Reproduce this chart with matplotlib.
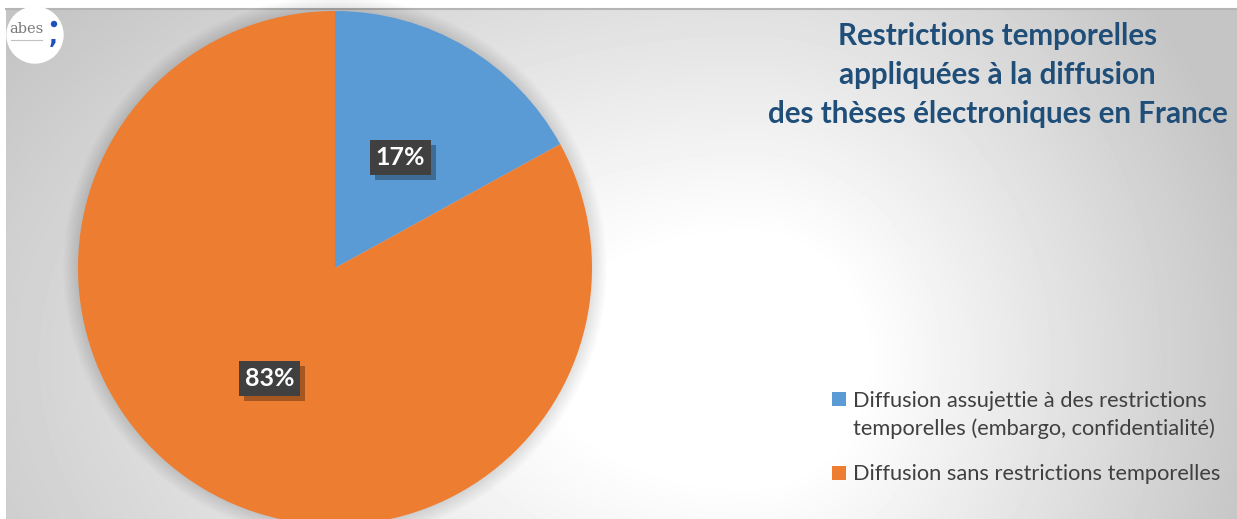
import numpy as np
import matplotlib
matplotlib.use("Agg")
import matplotlib.pyplot as plt
from matplotlib.patches import Circle, Rectangle
import matplotlib.patheffects as pe

# ---------------- data ----------------
labels = ["Diffusion assujettie à des restrictions\ntemporelles (embargo, confidentialité)",
          "Diffusion sans restrictions temporelles"]
values = [17, 83]
colors = ["#5B9BD5", "#ED7D31"]
title_lines = ["Restrictions temporelles",
               "appliquées à la diffusion",
               "des thèses électroniques en France"]

W, H = 1237, 519
fig = plt.figure(figsize=(W / 100, H / 100), dpi=100)
fig.patch.set_facecolor('white')
bg = fig.add_axes([0, 0, 1, 1])
bg.axis('off')

# background radial gradient
x0, y0 = 6, 9
xs = np.arange(x0, W) + 0.5
ys = np.arange(y0, H) + 0.5
X, Y = np.meshgrid(xs, ys)
cx, cy = 750, 360
dx = X - cx
sx = np.where(dx > 0, 520, 900)
r = np.sqrt((dx / sx) ** 2 + ((Y - cy) / 560) ** 2)
v = 1 - 0.23 * np.clip((r - 0.22) / 0.78, 0, 1)
bg.imshow(v, cmap='gray', vmin=0, vmax=1, extent=[x0, W, H, y0],
          interpolation='bilinear', zorder=0)
bg.plot([x0, W], [y0, y0], color='#b5b5b5', lw=1.5, zorder=1)
bg.set_xlim(0, W)
bg.set_ylim(H, 0)
bg.set_aspect('auto')

# pie shadow halo
PCX, PCY, PR = 335, 268, 257
for k in range(1, 16):
    bg.add_patch(Circle((PCX, PCY), PR + k, color='k', alpha=0.008, lw=0, zorder=1))

# logo
bg.add_patch(Circle((35, 35), 28, color='white', zorder=5))
bg.text(26, 33, 'abes', fontsize=10.5, color='#7a7a7a', family='DejaVu Serif',
        ha='center', va='baseline', zorder=6)
bg.plot([11, 42], [40, 40], color='#c0c0c0', lw=0.8, zorder=6)
bg.add_patch(Circle((54, 24), 3.2, color='#1E4FBF', lw=0, zorder=6))
bg.text(53, 43, ',', fontsize=17, fontweight='bold', color='#1E4FBF',
        family='DejaVu Sans', ha='center', va='baseline', zorder=6)

renderer = fig.canvas.get_renderer()


def fit(t, target):
    w = t.get_window_extent(renderer).width
    t.set_fontsize(t.get_fontsize() * target / w)
    return t.get_fontsize()


# title
tmp = bg.text(0, 0, title_lines[2], fontsize=20, family='Lato', fontweight='bold')
fs_title = fit(tmp, 461)
tmp.remove()
for line, base in zip(title_lines, [45, 84, 123]):
    bg.text(997.5, base, line, fontsize=fs_title, family='Lato', fontweight='bold',
            color='#1F4E79', ha='center', va='baseline', zorder=6)

# pie
pax = fig.add_axes([(PCX - PR) / W, (H - PCY - PR) / H, 2 * PR / W, 2 * PR / H])
wedges, texts, autotexts = pax.pie(values, colors=colors, startangle=90,
                                   counterclock=False, autopct='%1.0f%%',
                                   pctdistance=0.5,
                                   wedgeprops=dict(linewidth=0),
                                   textprops=dict(color='white', fontweight='bold',
                                                  family='Lato', fontsize=18))
pax.set_xlim(-1, 1)
pax.set_ylim(-1, 1)
for t in autotexts:
    t.set_bbox(dict(boxstyle='square,pad=0.24', facecolor='#404040', edgecolor='none'))
    t.get_bbox_patch().set_path_effects([
        pe.SimplePatchShadow(offset=(3.5, -3.5), shadow_rgbFace='black', alpha=0.3),
        pe.Normal()])

# legend
tmp = bg.text(0, 0, labels[1], fontsize=14, family='Lato')
fs_leg = fit(tmp, 370)
tmp.remove()
sq_tops = [392, 466]
baselines = [[407, 435], [480]]
for lab, col, top, bases in zip(labels, colors, sq_tops, baselines):
    bg.add_patch(Rectangle((832, top), 14, 14, color=col, lw=0, zorder=6))
    for line, b in zip(lab.split('\n'), bases):
        bg.text(853, b, line, fontsize=fs_leg, family='Lato', color='#404040',
                ha='left', va='baseline', zorder=6)

fig.savefig('out.png', dpi=100, facecolor='white')
